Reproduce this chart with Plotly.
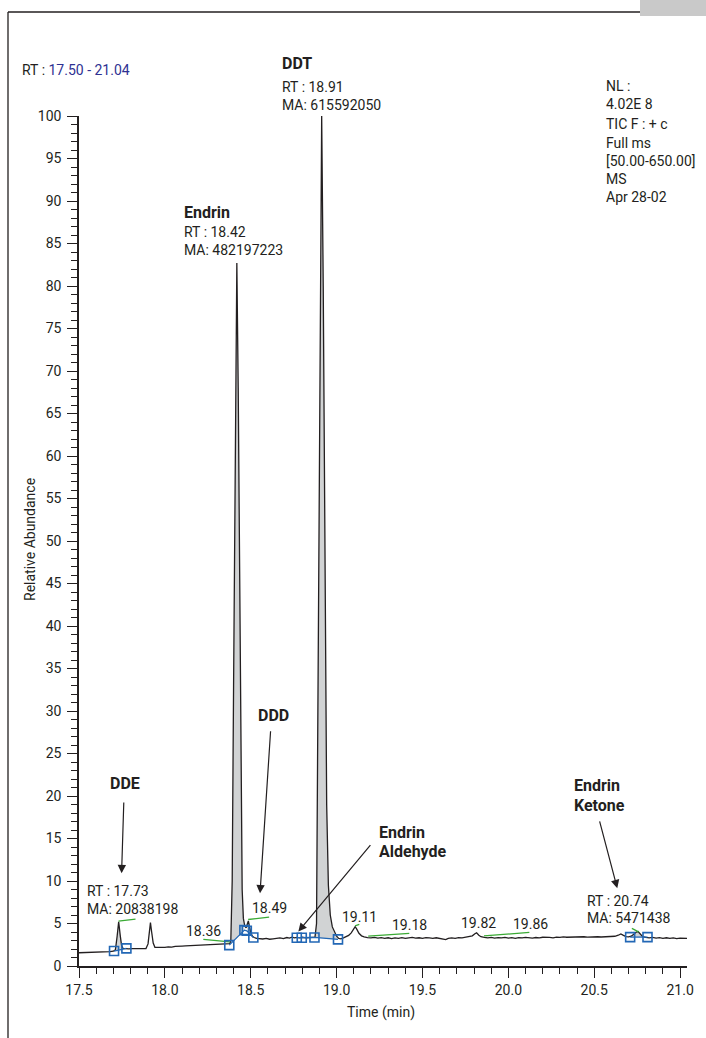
import plotly.graph_objects as go

# ---------------- data ----------------
time_min = [
    17.500, 17.520, 17.540, 17.560, 17.580, 17.600, 17.620, 17.640, 17.660, 17.680,
    17.700, 17.712, 17.722, 17.731, 17.740, 17.748, 17.756, 17.770, 17.790, 17.810,
    17.830, 17.850, 17.870, 17.890, 17.902, 17.910, 17.916, 17.923, 17.932, 17.942,
    17.960, 17.980, 18.000, 18.020, 18.040, 18.060, 18.080, 18.100, 18.120, 18.140,
    18.160, 18.180, 18.200, 18.220, 18.240, 18.260, 18.280, 18.300, 18.320, 18.340,
    18.360, 18.378, 18.384, 18.392, 18.400, 18.410, 18.419, 18.427, 18.435, 18.443,
    18.450, 18.457, 18.465, 18.473, 18.480, 18.486, 18.493, 18.500, 18.510, 18.520,
    18.535, 18.550, 18.570, 18.590, 18.610, 18.630, 18.650, 18.670, 18.690, 18.710,
    18.725, 18.740, 18.755, 18.770, 18.785, 18.800, 18.820, 18.840, 18.860, 18.874,
    18.883, 18.893, 18.903, 18.913, 18.922, 18.932, 18.942, 18.952, 18.963, 18.975,
    18.988, 19.000, 19.012, 19.025, 19.040, 19.055, 19.070, 19.085, 19.097, 19.108,
    19.118, 19.130, 19.145, 19.160, 19.180, 19.200, 19.220, 19.240, 19.260, 19.280,
    19.300, 19.320, 19.340, 19.360, 19.380, 19.400, 19.420, 19.440, 19.460, 19.480,
    19.500, 19.520, 19.540, 19.560, 19.580, 19.600, 19.620, 19.635, 19.650, 19.670,
    19.690, 19.710, 19.730, 19.750, 19.770, 19.790, 19.805, 19.815, 19.828, 19.840,
    19.860, 19.880, 19.900, 19.920, 19.940, 19.960, 19.980, 20.000, 20.020, 20.040,
    20.060, 20.080, 20.100, 20.120, 20.140, 20.160, 20.180, 20.200, 20.220, 20.240,
    20.260, 20.280, 20.300, 20.320, 20.340, 20.360, 20.380, 20.400, 20.420, 20.440,
    20.460, 20.480, 20.500, 20.520, 20.540, 20.560, 20.580, 20.600, 20.620, 20.640,
    20.655, 20.670, 20.685, 20.700, 20.715, 20.730, 20.745, 20.755, 20.768, 20.782,
    20.800, 20.820, 20.840, 20.860, 20.880, 20.900, 20.920, 20.940, 20.960, 20.980,
    21.000, 21.020, 21.040,
]
rel_abund = [
    1.56, 1.57, 1.58, 1.60, 1.59, 1.63, 1.64, 1.66, 1.68, 1.70,
    1.74, 1.90, 3.50, 5.20, 3.60, 2.40, 2.07, 2.03, 2.02, 2.04,
    2.03, 2.05, 2.04, 2.06, 2.60, 4.20, 5.10, 4.00, 2.70, 2.20,
    2.18, 2.20, 2.19, 2.25, 2.22, 2.30, 2.28, 2.34, 2.36, 2.38,
    2.42, 2.45, 2.50, 2.49, 2.54, 2.56, 2.60, 2.62, 2.61, 2.64,
    2.62, 2.62, 3.00, 10.0, 33.0, 65.0, 82.7, 68.0, 45.0, 20.0,
    9.0, 5.6, 4.7, 4.5, 5.0, 5.3, 4.6, 3.9, 3.5, 3.35,
    3.25, 3.22, 3.18, 3.25, 3.15, 3.20, 3.25, 3.30, 3.22, 3.35,
    3.28, 3.40, 3.30, 3.36, 3.32, 3.38, 3.30, 3.36, 3.34, 3.40,
    5.0, 38.0, 78.0, 100.0, 80.0, 46.0, 19.0, 9.5, 6.0, 4.6,
    3.9, 3.5, 3.25, 3.20, 3.30, 3.45, 3.60, 3.90, 4.30, 4.62,
    4.30, 3.85, 3.55, 3.42, 3.35, 3.30, 3.36, 3.28, 3.34, 3.25,
    3.32, 3.22, 3.30, 3.26, 3.34, 3.24, 3.30, 3.36, 3.28, 3.32,
    3.25, 3.34, 3.30, 3.24, 3.32, 3.27, 3.20, 3.10, 3.25, 3.30,
    3.26, 3.34, 3.30, 3.36, 3.42, 3.55, 3.80, 3.90, 3.62, 3.45,
    3.38, 3.32, 3.36, 3.28, 3.34, 3.30, 3.36, 3.28, 3.33, 3.26,
    3.34, 3.30, 3.36, 3.32, 3.28, 3.35, 3.30, 3.38, 3.33, 3.36,
    3.32, 3.40, 3.36, 3.42, 3.38, 3.40, 3.36, 3.42, 3.38, 3.44,
    3.40, 3.43, 3.40, 3.44, 3.41, 3.44, 3.40, 3.45, 3.50, 3.62,
    3.78, 3.60, 3.46, 3.42, 3.50, 3.75, 4.00, 4.05, 3.70, 3.45,
    3.38, 3.32, 3.36, 3.28, 3.34, 3.26, 3.32, 3.24, 3.30, 3.22,
    3.28, 3.24, 3.26,
]

# integration baseline points (blue squares), one list per connected group
dde_base_t = [17.704, 17.776]
dde_base_y = [1.76, 2.07]
endrin_ddd_base_t = [18.375, 18.463, 18.477, 18.515]
endrin_ddd_base_y = [2.46, 4.22, 4.14, 3.36]
ald_ddt_base_t = [18.768, 18.797, 18.871, 19.008]
ald_ddt_base_y = [3.33, 3.33, 3.36, 3.13]
ketone_base_t = [20.709, 20.810]
ketone_base_y = [3.40, 3.40]

# green label leader lines (start/end)
green_t = [[17.730, 17.829], [18.224, 18.378], [18.485, 18.607], [19.107, 19.132],
           [19.184, 19.423], [19.858, 20.122], [20.719, 20.758]]
green_y = [[5.28, 5.51], [3.13, 2.85], [5.47, 5.74], [4.72, 4.89],
           [3.52, 3.83], [3.55, 3.95], [4.42, 4.02]]

x_ticks = [17.5, 18.0, 18.5, 19.0, 19.5, 20.0, 20.5, 21.0]
y_ticks = list(range(0, 101, 5))

# ---------------- styling ----------------
FONT = "Roboto, 'Liberation Sans', Arial, sans-serif"
INK = "#231f20"
BLUE = "#2267b5"
GREEN = "#3aaa35"
FILL = "#d1d3d4"
FS = 14
FB = 16

W, H = 706, 1038
L, R, T, B = 79, 19, 116, 72
PW, PH = W - L - R, H - T - B


def px(x):
    return (x - L) / PW


def py(y):
    return (H - B - y) / PH


fig = go.Figure()

# gray fill under integrated peaks
groups = [(dde_base_t, dde_base_y), (endrin_ddd_base_t, endrin_ddd_base_y),
          (ald_ddt_base_t, ald_ddt_base_y), (ketone_base_t, ketone_base_y)]
for gt, gy in groups:
    for i in range(0, len(gt) - 1, 2):
        t0, t1 = gt[i], gt[i + 1]
        xs = [t0] + [t for t in time_min if t0 < t < t1] + [t1]
        ys = [gy[i]] + [v for t, v in zip(time_min, rel_abund) if t0 < t < t1] + [gy[i + 1]]
        fig.add_trace(go.Scatter(x=xs, y=ys, fill="toself", fillcolor=FILL,
                                 mode="lines", line=dict(width=0),
                                 hoverinfo="skip", showlegend=False))

# chromatogram
fig.add_trace(go.Scatter(x=time_min, y=rel_abund, mode="lines",
                         line=dict(color=INK, width=1.3), showlegend=False))

# green leader lines
for gt, gy in zip(green_t, green_y):
    fig.add_trace(go.Scatter(x=gt, y=gy, mode="lines",
                             line=dict(color=GREEN, width=1.3), showlegend=False))

# integration baselines and markers
for gt, gy in groups:
    fig.add_trace(go.Scatter(x=gt, y=gy, mode="lines+markers",
                             line=dict(color=BLUE, width=1.3),
                             marker=dict(symbol="square-open", size=9, color=BLUE,
                                         line=dict(width=1.6, color=BLUE)),
                             showlegend=False, cliponaxis=False))

ann = []


def txt(s, x, y, size=FS, bold=False, color=INK):
    ann.append(dict(text=f"<b>{s}</b>" if bold else s, x=px(x), y=py(y),
                    xref="paper", yref="paper", xanchor="left", yanchor="middle",
                    showarrow=False, font=dict(family=FONT, size=size, color=color)))


txt("RT : <span style='color:#2e3192'>17.50 - 21.04</span>", 20, 70)
txt("DDT", 280, 64, FB, True)
txt("RT : 18.91", 280, 87)
txt("MA: 615592050", 280, 105)
for s, yy in [("NL :", 86), ("4.02E 8", 104), ("TIC F : + c", 124), ("Full ms", 143),
              ("[50.00-650.00]", 161), ("MS", 179), ("Apr 28-02", 197)]:
    txt(s, 604, yy)
txt("Endrin", 182, 212, FB, True)
txt("RT : 18.42", 182, 232)
txt("MA: 482197223", 182, 250)
txt("DDD", 256, 715, FB, True)
txt("DDE", 108, 783, FB, True)
txt("Endrin", 572, 785, FB, True)
txt("Ketone", 572, 805, FB, True)
txt("Endrin", 377, 832, FB, True)
txt("Aldehyde", 377, 851, FB, True)
txt("RT : 17.73", 85, 891)
txt("MA: 20838198", 85, 909)
txt("RT : 20.74", 585, 901)
txt("MA: 5471438", 585, 918)
txt("18.36", 184, 931)
txt("18.49", 250, 908)
txt("19.11", 340, 917)
txt("19.18", 390, 925)
txt("19.82", 459, 923)
txt("19.86", 511, 924)

# axis titles
ann.append(dict(text="Time (min)", x=px(381), y=py(1013), xref="paper", yref="paper",
                showarrow=False, xanchor="center", yanchor="middle",
                font=dict(family=FONT, size=FS, color=INK)))
ann.append(dict(text="Relative Abundance", x=px(30), y=py(540), xref="paper", yref="paper",
                showarrow=False, xanchor="center", yanchor="middle", textangle=-90,
                font=dict(family=FONT, size=FS, color=INK)))

# arrows (tip -> x,y ; tail -> ax,ay)
for tip, tail in [((17.748, 10.9), (17.761, 19.4)),
                  ((18.554, 8.55), (18.616, 27.8)),
                  ((18.777, 4.05), (19.204, 14.4)),
                  ((20.634, 9.15), (20.529, 17.2))]:
    ann.append(dict(x=tip[0], y=tip[1], ax=tail[0], ay=tail[1], xref="x", yref="y",
                    axref="x", ayref="y", showarrow=True, arrowhead=2, arrowsize=1.4,
                    arrowwidth=1.2, arrowcolor=INK, text=""))

shapes = [
    dict(type="line", xref="paper", yref="paper", x0=px(8), x1=px(8), y0=py(12), y1=py(H),
         line=dict(color=INK, width=1.3)),
    dict(type="line", xref="paper", yref="paper", x0=px(8), x1=px(W), y0=py(12), y1=py(12),
         line=dict(color=INK, width=1.3)),
    dict(type="rect", xref="paper", yref="paper", x0=px(640), x1=px(W), y0=py(0), y1=py(16),
         fillcolor="#c9c9c9", line=dict(width=0)),
]

axis_common = dict(showline=True, linecolor=INK, linewidth=1.5, showgrid=False,
                   zeroline=False, ticks="outside", ticklen=10, tickwidth=1.3,
                   tickcolor=INK, tickfont=dict(family=FONT, size=FS, color=INK),
                   fixedrange=True)

fig.update_layout(
    width=W, height=H, margin=dict(l=L, r=R, t=T, b=B, pad=0),
    paper_bgcolor="white", plot_bgcolor="white", showlegend=False,
    font=dict(family=FONT, color=INK),
    xaxis=dict(range=[17.5, 21.04], tickmode="array", tickvals=x_ticks,
               ticktext=[f"{v:.1f}" for v in x_ticks],
               minor=dict(dtick=0.1, tick0=17.5, ticks="outside", ticklen=6,
                          tickwidth=1.2, tickcolor=INK),
               **axis_common),
    yaxis=dict(range=[0, 100], tickmode="array", tickvals=y_ticks,
               ticktext=[str(v) for v in y_ticks],
               minor=dict(dtick=1, tick0=0, ticks="outside", ticklen=6,
                          tickwidth=1.2, tickcolor=INK),
               ticklabelstandoff=3,
               **axis_common),
    annotations=ann, shapes=shapes,
)

fig.write_html("out.html", config={"displayModeBar": False},
               post_script="document.body.style.margin='0px';document.body.style.overflow='hidden';")
